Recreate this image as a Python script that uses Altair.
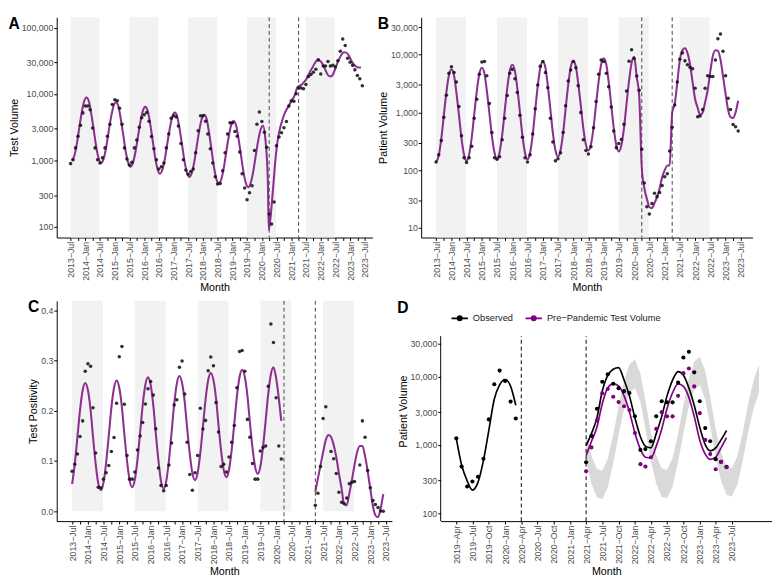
import altair as alt
import pandas as pd

FONT = "Liberation Sans"
PURPLE = "#801a85"
PURPLE_D = "#800080"
BAND = "#f2f2f2"
MINUS = "\u2212"


def month_seq(y, m, n, day=1):
    out = []
    for i in range(n):
        k = m - 1 + i
        out.append(f"{y + k // 12}-{k % 12 + 1:02d}-{day:02d}")
    return out


def tick_seq(y, m, n):
    out = []
    for i in range(n):
        k = m - 1 + 3 * i
        out.append(alt.DateTime(year=y + k // 12, month=k % 12 + 1, date=1))
    return out


# ---------------- data ----------------
months = month_seq(2013, 7, 120)  # Jul 2013 .. Jun 2023

A_obs = [895, 1020, 1545, 2310, 3390, 5200, 6590, 6590, 5780, 3076, 1545, 1020,
         916, 1100, 1545, 2310, 3500, 6950, 8200, 7950, 6100, 3500, 1545, 1050,
         855, 940, 1545, 2030, 3150, 4400, 4860, 5250, 3900, 2300, 1500, 1020,
         740, 800, 916, 1545, 2500, 4300, 4700, 4500, 3300, 1800, 1020, 720,
         620, 680, 740, 1300, 2800, 4700, 4700, 3900, 2500, 1500, 915, 570,
         440, 450, 700, 1300, 2500, 3700, 3700, 2720, 2310, 1340, 632, 385,
         255, 327, 417, 1416, 3505, 5370, 3860, 2660, 1580, 156, 110, 236,
         1670, 2260, 2610, 3105, 3860, 6590, 7940, 7760, 10100, 12300, 12300, 12000,
         13870, 18400, 19640, 21230, 23660, 32800, 20100, 26400, 26400, 31000, 26400, 27000,
         25500, 31700, 44000, 67500, 53700, 34700, 30100, 27000, 23100, 19000, 17000, 13300]

A_curve_dates = month_seq(2013, 7, 81, 15) + ["2020-03-27"] + month_seq(2020, 4, 38, 15)
A_curve = [1000, 1157, 1726, 2979, 5140, 7666, 8870, 7620, 5029, 2851, 1616, 1067,
           916, 1055, 1552, 2627, 4446, 6550, 7530, 6486, 4305, 2460, 1406, 933,
           803, 923, 1349, 2267, 3811, 5572, 6400, 5483, 3589, 2012, 1128, 738,
           632, 729, 1074, 1822, 3090, 4550, 5250, 4520, 3006, 1722, 986, 656,
           565, 653, 968, 1658, 2838, 4207, 4860, 4150, 2682, 1479, 815, 527,
           450, 520, 773, 1326, 2275, 3381, 3910, 3350, 2203, 1243, 701, 461,
           395, 456, 673, 1146, 1950, 2877, 3320, 2000, 500, 90,
           130, 330, 950, 2000, 3100, 4200, 5300, 6200, 7200, 8300, 9800, 12500,
           13300, 14000, 15500, 17500, 21000, 24500, 28500, 32000, 32000, 29500, 25000, 21000,
           18500, 18500, 21500, 27000, 33000, 39000, 42500, 42000, 38000, 32000, 28000, 26000,
           25000, 25000]

B_obs = [139, 186, 328, 824, 1990, 4810, 6180, 4930, 3380, 1265, 396, 164,
         136, 164, 261, 795, 1690, 4620, 7480, 7670, 4350, 1430, 450, 164,
         154, 171, 337, 795, 1970, 4810, 5590, 3830, 2230, 900, 372, 164,
         139, 186, 423, 1160, 2990, 6350, 7670, 4930, 2690, 795, 308, 145,
         158, 200, 450, 1312, 3510, 5460, 7670, 5960, 2900, 995, 337, 220,
         190, 255, 544, 1546, 4620, 8150, 7670, 4810, 2800, 1245, 480, 246,
         291, 341, 625, 2355, 7700, 12200, 8590, 4300, 2425, 231, 60, 23.2,
         17.4, 26.4, 40, 34.8, 41, 54, 77, 87, 216, 557, 1350, 3380,
         8380, 10800, 7850, 6750, 6110, 5740, 2620, 843, 867, 1127, 2620, 4350,
         4190, 4190, 8150, 19000, 23000, 11500, 4350, 1760, 1127, 617, 565, 478]

B_curve = [139, 178, 350, 881, 2218, 4365, 5590, 4375, 2241, 899, 361, 185,
           145, 186, 367, 929, 2352, 4645, 5960, 4667, 2404, 970, 392, 202,
           158, 203, 404, 1033, 2639, 5248, 6750, 5236, 2624, 1020, 396, 199,
           154, 200, 409, 1088, 2891, 5902, 7670, 5943, 2965, 1146, 443, 221,
           171, 221, 445, 1159, 3017, 6083, 7850, 6180, 3214, 1314, 537, 279,
           220, 281, 551, 1382, 3467, 6792, 8690, 6776, 3430, 1354, 534, 270,
           211, 272, 543, 1396, 3593, 7178, 9250, 4080, 2000, 110, 49.5, 32,
           23, 22, 27, 34, 48, 75, 100, 120, 122, 1000, 1400, 3300,
           8000, 12000, 13000, 10800, 6800, 3400, 1700, 1200, 900, 1000, 1500, 2470,
           5000, 9500, 12000, 11800, 8300, 4300, 2100, 1100, 830, 800, 1000, 1600]

C_obs = [0.0797, 0.0934, 0.114, 0.149, 0.18, 0.279, 0.294, 0.289, 0.206, 0.116, 0.048, 0.047,
         0.064, 0.0765, 0.091, 0.119, 0.147, 0.215, 0.3075, 0.328, 0.213, 0.111, 0.064, 0.064,
         0.078, 0.122, 0.15, 0.177, 0.2134, 0.244, 0.2586, 0.2316, 0.1644, 0.086, 0.0514, 0.0407,
         0.0514, 0.092, 0.136, 0.2115, 0.222, 0.2868, 0.2994, 0.2335, 0.1375, 0.0734, 0.042, 0.0765,
         0.111, 0.205, 0.164, 0.181, 0.28, 0.307, 0.29, 0.2166, 0.158, 0.089, 0.0934, 0.078,
         0.108, 0.1375, 0.1706, 0.246, 0.318, 0.32, 0.279, 0.183, 0.1475, 0.0953, 0.064, 0.064,
         0.12, 0.127, 0.13, 0.249, 0.373, 0.336, 0.226, 0.13, 0.104, None, None, None,
         None, None, None, None, None, None, None, None, None, 0.0119, 0.0358, 0.089,
         0.1846, 0.208, None, 0.119, 0.1047, 0.0753, 0.0377, 0.018, 0.0156, 0.0264, 0.0546, 0.0576,
         0.0595, None, 0.0923, 0.18, 0.1475, 0.081, 0.047, 0.0213, 0.0137, 0.0075, 0.0006, 0.0]

C_curve_pre = [0.054, 0.094, 0.148, 0.201, 0.241, 0.2554, 0.241, 0.202, 0.149, 0.095, 0.056, 0.042,
               0.0566, 0.0966, 0.151, 0.206, 0.246, 0.2605, 0.246, 0.207, 0.154, 0.101, 0.062, 0.048,
               0.0627, 0.1027, 0.1574, 0.212, 0.2521, 0.2667, 0.2519, 0.2113, 0.1559, 0.1004, 0.0599, 0.045,
               0.060, 0.1011, 0.1572, 0.2132, 0.2543, 0.2693, 0.2554, 0.2175, 0.1657, 0.1138, 0.0759, 0.062,
               0.0763, 0.1154, 0.1688, 0.2221, 0.2612, 0.2755, 0.2616, 0.2236, 0.1718, 0.1199, 0.0819, 0.068,
               0.0823, 0.1214, 0.1749, 0.2283, 0.2674, 0.2817, 0.2678, 0.2299, 0.1782, 0.1264, 0.0885, 0.0746,
               0.0888, 0.1277, 0.1807, 0.2338, 0.2729, 0.2868, 0.265, 0.225, 0.18]
C_curve_post = [0.039, 0.065, 0.092, 0.118, 0.142, 0.152, 0.148, 0.132, 0.108, 0.075, 0.045, 0.015,
                0.012, 0.035, 0.062, 0.092, 0.118, 0.13, 0.13, 0.11, 0.08, 0.045, 0.01, -0.008,
                -0.012, 0.005, 0.034]

D_pre_months = month_seq(2019, 4, 12)
D_post_months = month_seq(2021, 4, 27)
D_rib_months = month_seq(2021, 4, 33)
D_obs_line_pre = [1245, 506, 298, 217, 282, 593, 1620, 4690, 7550, 9040, 7160, 3790]
D_obs_line_post = [975, 1460, 2480, 6110, 10400, 12800, 13500, 8870, 5210, 2480, 1315, 957,
                   905, 1460, 2610, 5210, 8870, 11800, 10400, 6790, 3790, 1810, 1007, 817,
                   905, 1180, 1620]
D_pp_line = [695, 1122, 1810, 4000, 6790, 7800, 7310, 5210, 3060, 1493, 858, 659,
             645, 957, 1710, 3410, 5790, 7800, 7160, 4940, 2610, 1180, 732, 612,
             659, 905, 1280]
D_pp_points = [410, 918, 2280, 5680, 6570, 5050, 4220, 3670, 3235, 1493, 522, 480,
               659, 1710, 3010, 2610, 2610, 5210, 11200, 13100, 7160, 2910, 1180, 732,
               440, 562, 469]
D_rib_hi = [1500, 700, 440, 420, 620, 1400, 3600, 8800, 15000, 17600, 11000, 4500,
            1500, 700, 450, 430, 640, 1450, 3800, 9500, 16500, 19600, 12000, 5000,
            1700, 780, 480, 460, 680, 1550, 4000, 9000, 15000]
D_rib_lo = [580, 270, 170, 160, 240, 540, 1380, 3400, 5800, 6800, 4200, 1730,
            580, 270, 173, 166, 246, 560, 1460, 3650, 6350, 7500, 4600, 1920,
            650, 300, 185, 177, 262, 600, 1540, 3460, 5800]

band_start = ["2013-07-01", "2015-07-01", "2017-07-01", "2019-07-01", "2021-07-01"]
band_end = ["2014-06-25", "2016-06-25", "2018-06-25", "2020-06-25", "2022-06-25"]
vline_dates = ["2020-04-01", "2021-04-01"]

SERIES = ["Observed", f"Pre{MINUS}Pandemic Test Volume"]

# D panel value range (bottom of axis, top of axis line) and headroom for the legend
D_AXIS_LO, D_AXIS_HI, D_SCALE_TOP = 76.5, 39000, 128000

# ---------------- frames ----------------
dfA_obs = pd.DataFrame({"date": months, "v": A_obs})
dfA_cur = pd.DataFrame({"date": A_curve_dates, "v": A_curve})
dfB_obs = pd.DataFrame({"date": months, "v": B_obs})
dfB_cur = pd.DataFrame({"date": months, "v": B_curve})
dfC_obs = pd.DataFrame({"date": months, "v": C_obs})
dfC_cur = pd.DataFrame({
    "date": month_seq(2013, 7, 81) + D_post_months,
    "v": C_curve_pre + C_curve_post,
    "seg": ["pre"] * 81 + ["post"] * 27,
})
bands = pd.DataFrame({"start": band_start, "end": band_end})
bandsC = pd.DataFrame({"start": band_start, "end": band_end,
                       "lo": [0.0] * 5, "hi": [0.419] * 5})
vlines = pd.DataFrame({"date": vline_dates})
vlinesD = pd.DataFrame({"date": vline_dates, "lo": [D_AXIS_LO] * 2, "hi": [D_AXIS_HI] * 2})
yaxisD = pd.DataFrame({"date": ["2019-01-03"], "lo": [D_AXIS_LO], "hi": [D_AXIS_HI]})

dfD_lines = pd.DataFrame({
    "date": D_pre_months + D_post_months + D_post_months,
    "v": D_obs_line_pre + D_obs_line_post + D_pp_line,
    "series": [SERIES[0]] * 39 + [SERIES[1]] * 27,
    "seg": ["o1"] * 12 + ["o2"] * 27 + ["p"] * 27,
})
dfD_pts = pd.DataFrame({
    "date": D_pre_months + D_post_months + D_post_months,
    "v": B_obs[69:81] + B_obs[93:120] + D_pp_points,
    "series": [SERIES[0]] * 39 + [SERIES[1]] * 27,
})
dfD_rib = pd.DataFrame({"date": D_rib_months, "lo": D_rib_lo, "hi": D_rib_hi})

# ---------------- encodings ----------------
ticks_main = tick_seq(2013, 7, 41)
ticks_D = tick_seq(2019, 4, 18)


def xenc(field, dom, ticks):
    return alt.X(f"{field}:T",
                 scale=alt.Scale(domain=dom),
                 axis=alt.Axis(values=ticks, format=f"%Y{MINUS}%b", labelAngle=270,
                               title="Month"))


def yenc(field, dom, vals, fmt, title, log=True, domain_line=True):
    if log:
        sc = alt.Scale(type="log", domain=dom, nice=False)
    else:
        sc = alt.Scale(domain=dom, nice=False, zero=False)
    return alt.Y(f"{field}:Q", scale=sc,
                 axis=alt.Axis(values=vals, format=fmt, title=title, domain=domain_line))


def letter(t):
    return alt.TitleParams(t, anchor="start", frame="bounds", fontSize=16,
                           fontWeight="bold", font=FONT, offset=-15, color="black")


def dt(y, m, d):
    return alt.DateTime(year=y, month=m, date=d)


def seasonal_panel(t, obs, cur, xdom, ydom, yvals, yfmt, ytitle, w, h, log=True,
                   bands_df=None, detail=False):
    X = lambda f: xenc(f, xdom, ticks_main)
    Y = lambda f: yenc(f, ydom, yvals, yfmt, ytitle, log)
    if log:
        rect = alt.Chart(bands).mark_rect(color=BAND).encode(x=X("start"), x2="end")
    else:
        rect = alt.Chart(bands_df).mark_rect(color=BAND).encode(
            x=X("start"), x2="end", y=Y("lo"), y2="hi")
    rules = alt.Chart(vlines).mark_rule(color="#444444", strokeDash=[4, 3],
                                        strokeWidth=1).encode(x=X("date"))
    enc = dict(x=X("date"), y=Y("v"))
    if detail:
        enc["detail"] = "seg:N"
    line = alt.Chart(cur).mark_line(color=PURPLE, strokeWidth=2.1, opacity=0.9,
                                    interpolate="monotone").encode(**enc)
    pts = alt.Chart(obs).mark_circle(color="#141414", size=13, opacity=0.88).encode(
        x=X("date"), y=Y("v"))
    return alt.layer(rect, rules, line, pts).properties(width=w, height=h, title=letter(t))


H = 226
A = seasonal_panel("A", dfA_obs, dfA_cur, [dt(2013, 1, 10), dt(2023, 10, 5)],
                   [69, 143000], [100, 300, 1000, 3000, 10000, 30000, 100000], ",",
                   "Test Volume", 324, H)
B = seasonal_panel("B", dfB_obs, dfB_cur, [dt(2013, 1, 3), dt(2023, 11, 20)],
                   [6.8, 44700], [10, 30, 100, 300, 1000, 3000, 10000, 30000], ",",
                   "Patient Volume", 340, H)
C = seasonal_panel("C", dfC_obs, dfC_cur, [dt(2013, 1, 3), dt(2023, 9, 10)],
                   [-0.0196, 0.419], [0.0, 0.1, 0.2, 0.3, 0.4], ".1f",
                   "Test Positivity", 344, H, log=False, bands_df=bandsC, detail=True)

# ---- panel D ----
xD = lambda f: xenc(f, [dt(2019, 1, 3), dt(2024, 2, 12)], ticks_D)
yD = lambda f: yenc(f, [D_AXIS_LO, D_SCALE_TOP], [100, 300, 1000, 3000, 10000, 30000], ",",
                    "Patient Volume", domain_line=False)
SYM = "M-1,0L1,0M0.26,0A0.26,0.26,0,1,1,-0.26,0A0.26,0.26,0,1,1,0.26,0Z"

rib = alt.Chart(dfD_rib).mark_area(color="#d9d9d9").encode(x=xD("date"), y=yD("lo"), y2="hi")
axisD = alt.Chart(yaxisD).mark_rule(color="black", strokeWidth=1).encode(
    x=xD("date"), y=yD("lo"), y2="hi")
rulesD = alt.Chart(vlinesD).mark_rule(color="black", strokeDash=[4, 3], strokeWidth=1).encode(
    x=xD("date"), y=yD("lo"), y2="hi")
linesD = alt.Chart(dfD_lines).mark_line(strokeWidth=1.7, interpolate="monotone").encode(
    x=xD("date"), y=yD("v"), detail="seg:N",
    color=alt.Color("series:N",
                    scale=alt.Scale(domain=SERIES, range=["#000000", PURPLE_D]),
                    legend=alt.Legend(orient="none", legendX=10, legendY=8,
                                      direction="horizontal", title=None,
                                      symbolType=SYM, symbolSize=280, symbolStrokeWidth=1.8,
                                      labelFontSize=9.5, labelColor="#222222",
                                      labelFont=FONT, padding=0,
                                      columnPadding=8, labelLimit=300)))
ptsD = alt.Chart(dfD_pts).mark_circle(size=18, opacity=1).encode(
    x=xD("date"), y=yD("v"),
    fill=alt.Fill("series:N", scale=alt.Scale(domain=SERIES, range=["#000000", PURPLE_D]),
                  legend=None))
D = alt.layer(rib, axisD, rulesD, linesD, ptsD).properties(width=340, height=H,
                                                           title=letter("D"))

row1 = alt.hconcat(A, B, spacing=5)
row2 = alt.hconcat(C, D, spacing=5).resolve_scale(color="independent", fill="independent")
chart = alt.vconcat(row1, row2, spacing=6).resolve_scale(
    color="independent", fill="independent")
chart = chart.configure_axis(
    labelFont=FONT, titleFont=FONT, labelFontSize=9, titleFontSize=11,
    labelColor="#4d4d4d", titleColor="black", titleFontWeight="normal",
    domainColor="black", tickColor="black", grid=False, tickSize=3,
    labelPadding=1, titlePadding=2,
).configure_view(stroke=None).properties(
    padding={"left": 0, "top": 0, "right": 0, "bottom": 0})

chart.save("out.html", embed_options={"renderer": "svg", "actions": False})
